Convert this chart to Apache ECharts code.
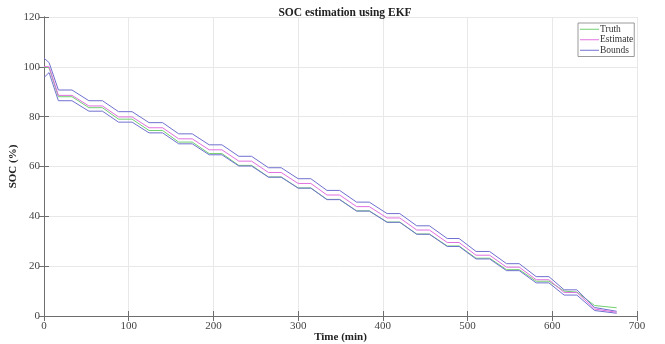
<!DOCTYPE html>
<html>
<head>
<meta charset="utf-8">
<script src="https://cdn.jsdelivr.net/npm/echarts@6/dist/echarts.min.js"></script>
<style>html,body{margin:0;padding:0;background:#fff}#c{width:665px;height:344px}</style>
</head>
<body>
<div id="c"></div>
<script>
// Time points (min)
var times = [0, 6, 17, 33, 53, 69, 88, 104, 124, 140, 159, 175, 195, 210, 230, 245, 265, 280, 300, 315, 334, 349, 369, 384, 405, 420, 440, 455, 476, 490, 510, 526, 546, 561, 581, 596, 614, 629, 650, 676];
// SOC (%) values
var truth = [100.0, 99.6, 88.0, 88.0, 83.6, 83.6, 79.0, 79.0, 74.45, 74.45, 69.8, 69.8, 65.2, 65.2, 60.45, 60.45, 55.8, 55.8, 51.4, 51.4, 46.8, 46.8, 42.2, 42.2, 37.7, 37.7, 32.9, 32.9, 28.1, 28.1, 23.2, 23.2, 18.6, 18.6, 13.95, 13.95, 10.0, 9.6, 4.2, 3.3];
var estimate = [100.2, 100.0, 88.55, 88.55, 84.3, 84.3, 79.9, 79.9, 75.55, 75.55, 71.1, 71.1, 66.7, 66.7, 62.15, 62.15, 57.6, 57.6, 53.2, 53.2, 48.55, 48.55, 43.9, 43.9, 39.35, 39.35, 34.5, 34.5, 29.5, 29.5, 24.4, 24.4, 19.6, 19.6, 14.55, 14.55, 9.45, 9.45, 2.8, 1.5];
var upperBound = [103.5, 101.7, 90.7, 90.7, 86.4, 86.4, 82.0, 82.0, 77.6, 77.6, 73.1, 73.1, 68.7, 68.7, 64.1, 64.1, 59.5, 59.5, 55.1, 55.1, 50.4, 50.4, 45.7, 45.7, 41.1, 41.1, 36.2, 36.2, 31.1, 31.1, 25.9, 25.9, 21.0, 21.0, 15.8, 15.8, 10.5, 10.5, 3.4, 1.9];
var lowerBound = [95.7, 97.7, 86.4, 86.4, 82.2, 82.2, 77.8, 77.8, 73.5, 73.5, 69.1, 69.1, 64.7, 64.7, 60.2, 60.2, 55.7, 55.7, 51.3, 51.3, 46.7, 46.7, 42.1, 42.1, 37.6, 37.6, 32.8, 32.8, 27.9, 27.9, 22.9, 22.9, 18.2, 18.2, 13.3, 13.3, 8.4, 8.4, 2.2, 1.1];
var xTicks = [0, 100, 200, 300, 400, 500, 600, 700];
var yTicks = [0, 20, 40, 60, 80, 100, 120];

function pairs(vals) { return times.map(function (t, i) { return [t, vals[i]]; }); }

var serif = '"Liberation Serif", "DejaVu Serif", serif';
var axisCol = '#6e6e6e';
var gridCol = '#e8e8e8';

var chart = echarts.init(document.getElementById('c'), null, { renderer: 'canvas' });

function baseAxis(extra) {
  var o = {
    axisLine: { show: true, lineStyle: { color: axisCol, width: 1 } },
    axisTick: { show: true, inside: true, length: 5, lineStyle: { color: axisCol } },
    splitLine: { show: false },
    axisLabel: { show: false }
  };
  for (var k in extra) o[k] = extra[k];
  return o;
}

var option = {
  animation: false,
  backgroundColor: '#ffffff',
  title: {
    text: 'SOC estimation using EKF',
    left: 340, top: 2, textAlign: 'center',
    textStyle: { fontFamily: serif, fontSize: 11.5, fontWeight: 'bold', color: '#222' }
  },
  grid: { left: 44, right: 28, top: 17, bottom: 28, containLabel: false, outerBoundsMode: 'none' },
  legend: {
    data: ['Truth', 'Estimate', 'Bounds'],
    orient: 'vertical',
    left: 578, top: 23,
    icon: 'rect',
    itemWidth: 19, itemHeight: 1, itemGap: 0,
    padding: [1, 1, 1, 2],
    borderColor: '#9a9a9a', borderWidth: 1, backgroundColor: '#fff',
    textStyle: { fontFamily: serif, fontSize: 9.5, color: '#333', padding: [0, 0, 0, -4], lineHeight: 10.5 }
  },
  xAxis: [
    baseAxis({
      type: 'value', min: xTicks[0], max: xTicks[xTicks.length - 1], interval: 100,
      position: 'bottom',
      name: 'Time (min)', nameLocation: 'middle', nameGap: 16, nameMoveOverlap: false,
      nameTextStyle: { fontFamily: serif, fontSize: 11, fontWeight: 'bold', color: '#222' },
      axisLabel: { show: true, fontFamily: serif, fontSize: 11, color: '#444', margin: 5 },
      splitLine: { show: true, lineStyle: { color: gridCol, width: 1 } }
    }),
    baseAxis({ type: 'value', min: 0, max: 700, interval: 100, position: 'top' })
  ],
  yAxis: [
    baseAxis({
      type: 'value', min: yTicks[0], max: yTicks[yTicks.length - 1], interval: 20,
      position: 'left',
      name: 'SOC (%)', nameLocation: 'middle', nameGap: 25, nameMoveOverlap: false,
      nameTextStyle: { fontFamily: serif, fontSize: 11, fontWeight: 'bold', color: '#222' },
      axisLabel: { show: true, fontFamily: serif, fontSize: 11, color: '#444', margin: 4 },
      splitLine: { show: true, lineStyle: { color: gridCol, width: 1 } }
    }),
    baseAxis({ type: 'value', min: 0, max: 120, interval: 20, position: 'right' })
  ],
  series: [
    { name: 'Bounds', type: 'line', data: pairs(upperBound), symbol: 'none', z: 3,
      lineStyle: { color: '#7070d0', width: 1 }, itemStyle: { color: '#7070d0' } },
    { name: 'Bounds', type: 'line', data: pairs(lowerBound), symbol: 'none', z: 3,
      lineStyle: { color: '#7070d0', width: 1 }, itemStyle: { color: '#7070d0' } },
    { name: 'Estimate', type: 'line', data: pairs(estimate), symbol: 'none', z: 4,
      lineStyle: { color: '#e070e0', width: 1 }, itemStyle: { color: '#e070e0' } },
    { name: 'Truth', type: 'line', data: pairs(truth), symbol: 'none', z: 2,
      lineStyle: { color: '#70d070', width: 1 }, itemStyle: { color: '#70d070' } }
  ]
};
chart.setOption(option);
</script>
</body>
</html>
